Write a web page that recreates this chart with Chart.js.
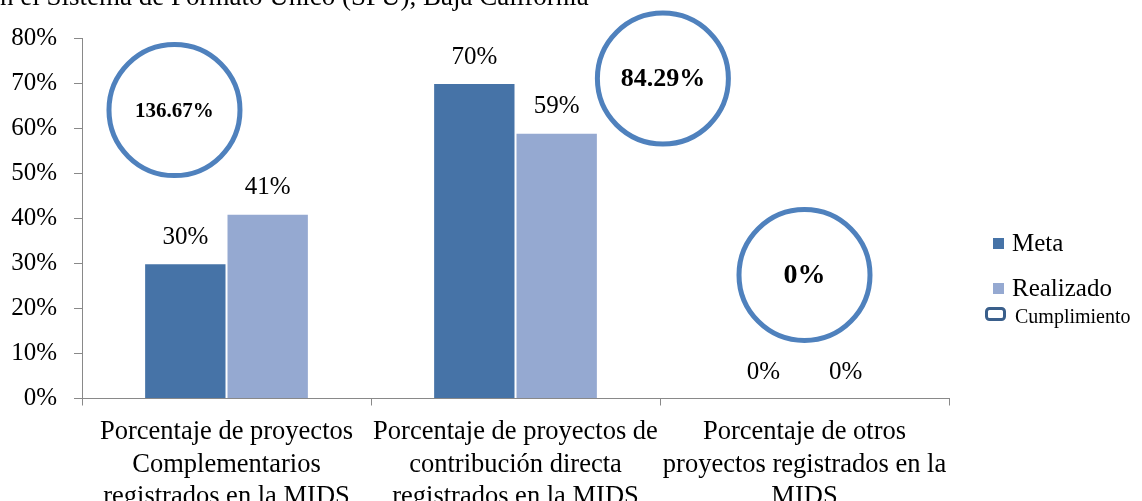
<!DOCTYPE html>
<html><head><meta charset="utf-8">
<script src="https://cdn.jsdelivr.net/npm/chart.js@4"></script>
<style>
html,body{margin:0;padding:0;background:#fff;overflow:hidden}
#wrap{position:relative;width:1142px;height:501px;overflow:hidden}
#title{position:absolute;left:-12px;top:-17px;font:27px/1 "Liberation Serif",serif;white-space:nowrap;color:#000}
canvas{position:absolute;left:0;top:0}
</style></head><body>
<div id="wrap"><canvas id="c" width="1142" height="501"></canvas><div id="title">en el Sistema de Formato Único (SFU), Baja California</div></div>
<script>
// ---- data ----
const categories = [
  ["Porcentaje de proyectos", "Complementarios", "registrados en la MIDS"],
  ["Porcentaje de proyectos de", "contribución directa", "registrados en la MIDS"],
  ["Porcentaje de otros", "proyectos registrados en la", "MIDS"]
];
const metaValues = [30, 70, 0];
const realizadoValues = [41, 59, 0];
const cumplimientoValues = [136.67, 84.29, 0];
const yTickValues = [0, 10, 20, 30, 40, 50, 60, 70, 80];
const seriesNames = ["Meta", "Realizado", "Cumplimiento"];

// ---- callout placement (style, not data): where each "Cumplimiento" circle sits, in axis units ----
const calloutPlacement = [{x: -0.18, y: 64}, {x: 1.51, y: 71}, {x: 2.0, y: 27.4}];
const calloutFontSize = [21, 26, 28];

const FONT = '"Liberation Serif", "Times New Roman", serif';
const AXIS = '#898989';
const META = '#4673A7', REAL = '#95A9D1', CIRC = '#4F81BD', CUMP_LEG = '#3A5F8B';

const valueLabels = {
  id: 'valueLabels',
  afterDatasetsDraw(chart) {
    const ctx = chart.ctx;
    ctx.save();
    ctx.fillStyle = '#000';
    ctx.textAlign = 'center';
    ctx.textBaseline = 'middle';
    ctx.font = '25px ' + FONT;
    [0, 1].forEach(di => {
      chart.getDatasetMeta(di).data.forEach((bar, i) => {
        const v = chart.data.datasets[di].data[i].y;
        ctx.fillText(v + '%', bar.x, bar.y - 26);
      });
    });
    chart.getDatasetMeta(2).data.forEach((pt, i) => {
      ctx.font = 'bold ' + calloutFontSize[i] + 'px ' + FONT;
      ctx.fillText(cumplimientoValues[i] + '%', pt.x, pt.y + 1);
    });
    ctx.restore();
  }
};

const customLegend = {
  id: 'customLegend',
  afterDraw(chart) {
    const ctx = chart.ctx;
    ctx.save();
    ctx.textAlign = 'left';
    ctx.textBaseline = 'middle';
    ctx.fillStyle = META;
    ctx.fillRect(993, 238, 11, 11);
    ctx.fillStyle = REAL;
    ctx.fillRect(993, 283, 11, 11);
    ctx.fillStyle = '#000';
    ctx.font = '25px ' + FONT;
    ctx.fillText(seriesNames[0], 1012, 244);
    ctx.fillText(seriesNames[1], 1012, 289);
    ctx.strokeStyle = CUMP_LEG;
    ctx.lineWidth = 3;
    ctx.fillStyle = '#fff';
    ctx.beginPath();
    ctx.roundRect(986.5, 308.5, 18, 11, 3);
    ctx.fill();
    ctx.stroke();
    ctx.fillStyle = '#000';
    ctx.font = '20px ' + FONT;
    ctx.fillText(seriesNames[2], 1015, 318);
    ctx.restore();
  }
};

const toPoints = arr => arr.map((v, i) => ({x: i, y: v}));

new Chart(document.getElementById('c'), {
  type: 'bar',
  data: {
    datasets: [
      {label: seriesNames[0], data: toPoints(metaValues), backgroundColor: META, borderColor: '#fff', borderWidth: 1,
       categoryPercentage: 0.57, barPercentage: 1},
      {label: seriesNames[1], data: toPoints(realizadoValues), backgroundColor: REAL, borderColor: '#fff', borderWidth: 1,
       categoryPercentage: 0.57, barPercentage: 1},
      {type: 'scatter', label: seriesNames[2],
       data: cumplimientoValues.map((v, i) => ({x: calloutPlacement[i].x, y: calloutPlacement[i].y, v})),
       pointRadius: 65.5, pointHoverRadius: 65.5, borderWidth: 5,
       borderColor: CIRC, backgroundColor: '#fff', clip: false}
    ]
  },
  options: {
    responsive: false, animation: false, devicePixelRatio: 1, events: [],
    layout: {autoPadding: false, padding: {left: 10, right: 193, top: 38, bottom: 0}},
    plugins: {legend: {display: false}, tooltip: {enabled: false}, title: {display: false}},
    scales: {
      x: {
        type: 'linear', min: -0.5, max: 2.5, offset: false,
        afterBuildTicks: s => { s.ticks = categories.map((c, i) => ({value: i})); },
        afterFit: s => { s.height = 102.5; },
        grid: {drawOnChartArea: false, tickLength: 7, color: AXIS, offset: true},
        border: {color: AXIS, width: 1},
        ticks: {callback: v => categories[v], font: {family: FONT, size: 26.5, lineHeight: 1.21}, color: '#000',
                maxRotation: 0, minRotation: 0, autoSkip: false, padding: 11}
      },
      y: {
        min: 0, max: 80,
        afterBuildTicks: s => { s.ticks = yTickValues.map(v => ({value: v})); },
        afterFit: s => { s.width = 72; },
        ticks: {callback: v => v + '%', font: {family: FONT, size: 25}, color: '#000', padding: 17},
        grid: {drawOnChartArea: false, tickLength: 8, color: AXIS},
        border: {color: AXIS, width: 1}
      }
    }
  },
  plugins: [valueLabels, customLegend]
});
</script>
</body></html>
